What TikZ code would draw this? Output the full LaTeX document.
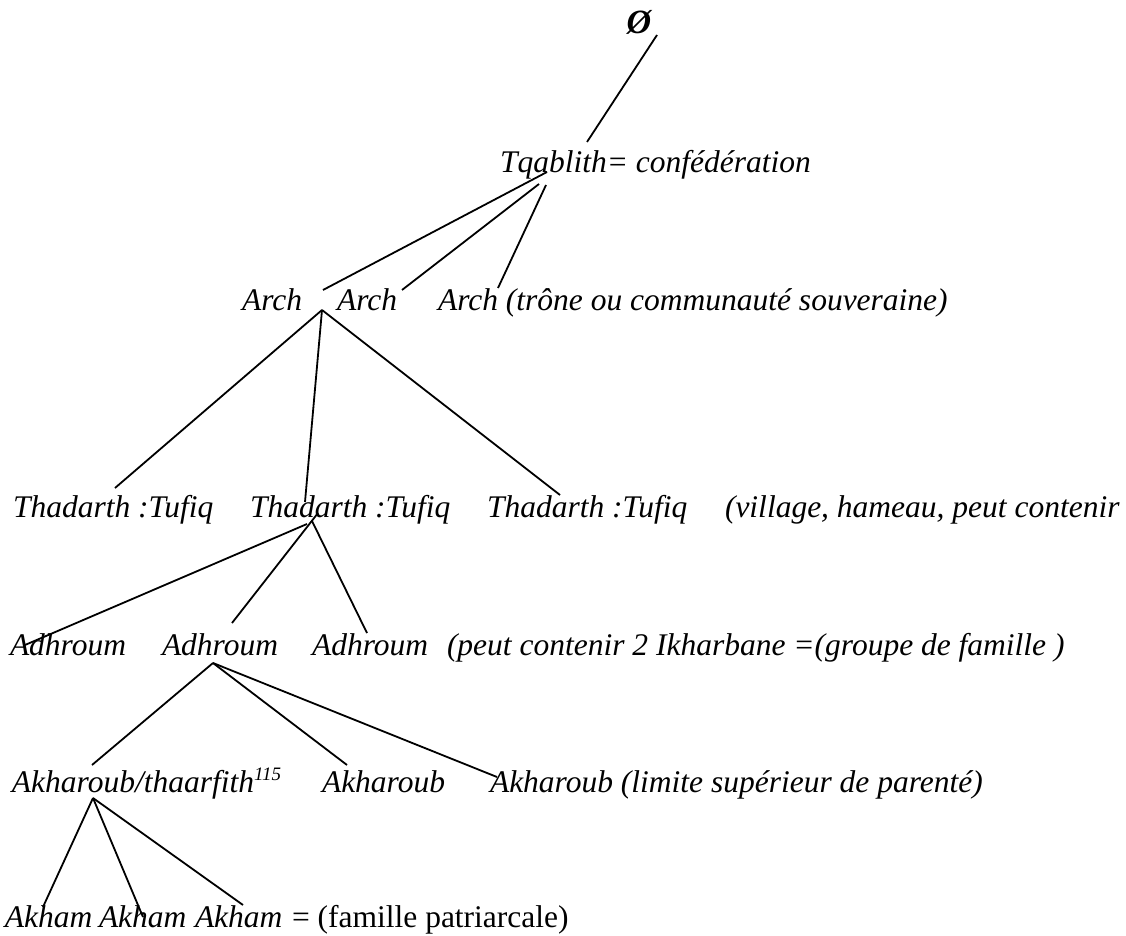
\documentclass[tikz,border=0pt]{standalone}
\usepackage{fontspec}
\setmainfont{Liberation Serif}
\tikzset{
  lbl/.style={inner sep=0pt, outer sep=0pt, anchor=base west, font=\fontsize{31.5}{36}\selectfont\itshape},
  lblroman/.style={lbl, font=\fontsize{31.5}{36}\selectfont\upshape},
  link/.style={line width=1.8pt, line cap=butt},
}
\newcommand{\supnum}[1]{\raisebox{12pt}{\fontsize{19}{20}\selectfont #1}}
\begin{document}
\begin{tikzpicture}[x=1pt, y=-1pt]
\useasboundingbox (0,0) rectangle (1126,936);
% texts
\node[lbl, anchor=base, font=\fontsize{34}{38}\selectfont\bfseries\itshape] (root) at (639,34) {Ø};
\node[lbl] (tq) at (500,172) {Tqablith= confédération};
\node[lbl] (arA) at (242,310) {Arch};
\node[lbl] (arB) at (337,310) {Arch};
\node[lbl] (arC) at (438,310) {Arch (trône ou communauté souveraine)};
\node[lbl] (thA) at (13,517) {Thadarth :Tufiq};
\node[lbl] (thB) at (250,517) {Thadarth :Tufiq};
\node[lbl] (thC) at (487,517) {Thadarth :Tufiq};
\node[lbl] (thN) at (725,517) {(village, hameau, peut contenir};
\node[lbl] (adA) at (10,655) {Adhroum};
\node[lbl] (adB) at (162,655) {Adhroum};
\node[lbl] (adC) at (312,655) {Adhroum};
\node[lbl] (adN) at (447,655) {(peut contenir 2 Ikharbane =(groupe de famille )};
\node[lbl] (akA) at (12,792) {Akharoub/thaarfith\supnum{115}};
\node[lbl] (akB) at (322,792) {Akharoub};
\node[lbl] (akC) at (490,792) {Akharoub (limite supérieur de parenté)};
\node[lbl] (khA) at (5,927) {Akham};
\node[lbl] (khB) at (99,927) {Akham};
\node[lbl] (khC) at (195,927) {Akham};
\node[lblroman] (khN) at (292,927) {= (famille patriarcale)};
% connector ends
\coordinate (rootEnd) at (657,35);
\coordinate (tqTop) at (587,142);
\coordinate (tqA) at (547,172);
\coordinate (tqB) at (539,184);
\coordinate (tqC) at (546,185);
\coordinate (arAend) at (323,290);
\coordinate (arBend) at (402,290);
\coordinate (arCend) at (498,288);
\coordinate (arApex) at (322,310);
\coordinate (thAend) at (115,488);
\coordinate (thBend) at (305,502);
\coordinate (thCend) at (560,495);
\coordinate (thApexA) at (307,524);
\coordinate (thApexB) at (318,513);
\coordinate (thApexC) at (312,521);
\coordinate (adAend) at (25,645);
\coordinate (adBend) at (232,623);
\coordinate (adCend) at (367,633);
\coordinate (adApex) at (213,663);
\coordinate (akAend) at (92,765);
\coordinate (akBend) at (347,765);
\coordinate (akCend) at (497,777);
\coordinate (akApex) at (93,798);
\coordinate (khAend) at (43,907);
\coordinate (khBend) at (143,917);
\coordinate (khCend) at (243,905);
% connectors
\draw[link] (rootEnd) -- (tqTop);
\draw[link] (tqA) -- (arAend);
\draw[link] (tqB) -- (arBend);
\draw[link] (tqC) -- (arCend);
\draw[link] (arApex) -- (thAend);
\draw[link] (arApex) -- (thBend);
\draw[link] (arApex) -- (thCend);
\draw[link] (thApexA) -- (adAend);
\draw[link] (thApexB) -- (adBend);
\draw[link] (thApexC) -- (adCend);
\draw[link] (adApex) -- (akAend);
\draw[link] (adApex) -- (akBend);
\draw[link] (adApex) -- (akCend);
\draw[link] (akApex) -- (khAend);
\draw[link] (akApex) -- (khBend);
\draw[link] (akApex) -- (khCend);
\end{tikzpicture}
\end{document}
